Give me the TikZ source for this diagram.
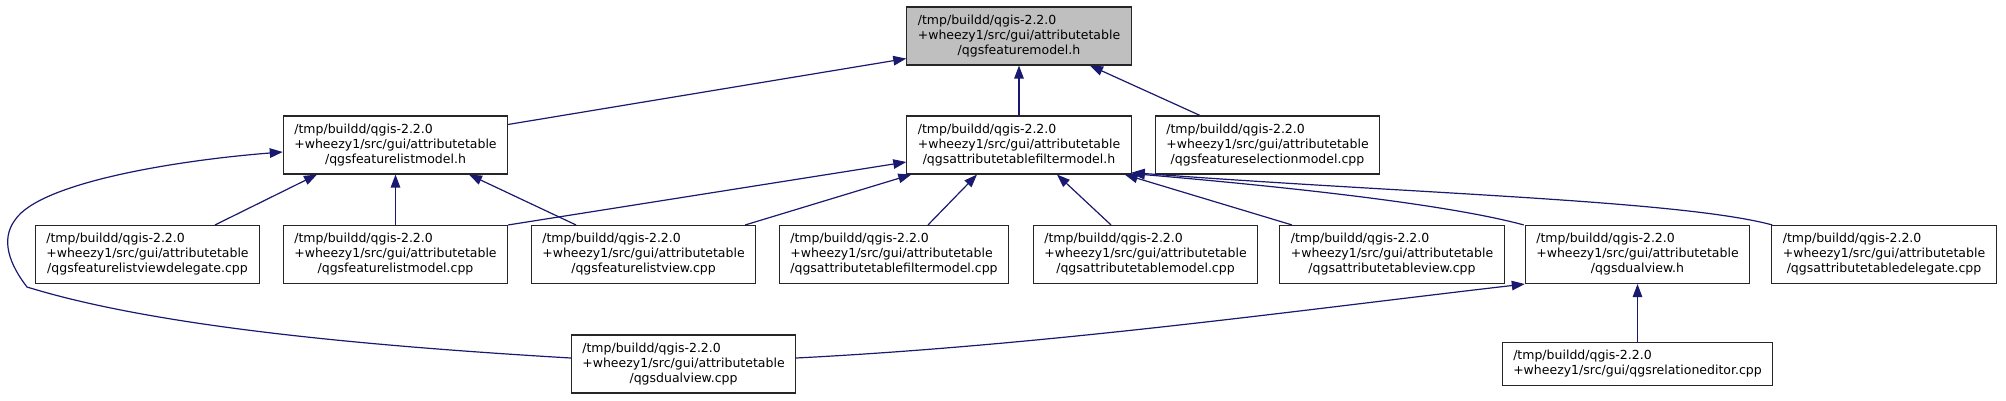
\documentclass[tikz,border=0pt]{standalone}
\usepackage{fontspec}
\setmainfont{DejaVu Sans}
\usetikzlibrary{arrows.meta}
\definecolor{edgeblue}{HTML}{191970}
\definecolor{boxgray}{HTML}{BFBFBF}
\newcommand{\lblthree}[3]{\begin{tabular}{@{}l@{}}#1\\#2\\\multicolumn{1}{@{}c@{}}{#3}\end{tabular}}
\newcommand{\lbltwo}[2]{\begin{tabular}{@{}l@{}}#1\\#2\end{tabular}}
\newcommand{\pa}{/tmp/buildd/qgis-2.2.0}
\newcommand{\pb}{+wheezy1/src/gui/attributetable}
\begin{document}
\begin{tikzpicture}[x=1pt,y=-1pt,
  box/.style={draw=black!85, line width=1.1pt, fill=white, inner xsep=11pt, inner ysep=6.5pt,
    font=\fontsize{12.5}{15}\selectfont},
  arr/.style={draw=edgeblue, line width=1.2pt, -{Triangle[length=13pt,width=9.5pt]}}]
\useasboundingbox[fill=white] (0,0) rectangle (2006,400);

\node[box, fill=boxgray] (fm) at (1019,36) {\lblthree{\pa}{\pb}{/qgsfeaturemodel.h}};
\node[box] (flmh) at (395.5,145) {\lblthree{\pa}{\pb}{/qgsfeaturelistmodel.h}};
\node[box] (tfmh) at (1019,145) {\lblthree{\pa}{\pb}{/qgsattributetablefiltermodel.h}};
\node[box] (fsel) at (1267.5,145) {\lblthree{\pa}{\pb}{/qgsfeatureselectionmodel.cpp}};
\node[box] (flvd) at (147.5,254.5) {\lblthree{\pa}{\pb}{/qgsfeaturelistviewdelegate.cpp}};
\node[box] (flmc) at (395.5,254.5) {\lblthree{\pa}{\pb}{/qgsfeaturelistmodel.cpp}};
\node[box] (flv) at (643.5,254.5) {\lblthree{\pa}{\pb}{/qgsfeaturelistview.cpp}};
\node[box] (tfmc) at (894,254.5) {\lblthree{\pa}{\pb}{/qgsattributetablefiltermodel.cpp}};
\node[box] (tmc) at (1145.5,254.5) {\lblthree{\pa}{\pb}{/qgsattributetablemodel.cpp}};
\node[box] (tvc) at (1392,254.5) {\lblthree{\pa}{\pb}{/qgsattributetableview.cpp}};
\node[box] (dvh) at (1637.5,254.5) {\lblthree{\pa}{\pb}{/qgsdualview.h}};
\node[box] (tdc) at (1884,254.5) {\lblthree{\pa}{\pb}{/qgsattributetabledelegate.cpp}};
\node[box] (dvc) at (683.5,364) {\lblthree{\pa}{\pb}{/qgsdualview.cpp}};
\node[box] (re) at (1637.5,364) {\lbltwo{\pa}{+wheezy1/src/gui/qgsrelationeditor.cpp}};

% to qgsfeaturemodel.h
\draw[arr] ([yshift=-9pt]flmh.north east) -- ([yshift=7pt]fm.south west);
\draw[arr] (tfmh.north) -- (fm.south);
\draw[arr] ([xshift=-67.5pt]fsel.north) -- ([xshift=71pt]fm.south);

% to qgsfeaturelistmodel.h
\draw[arr] ([xshift=67.5pt]flvd.north) -- ([xshift=-78.5pt]flmh.south);
\draw[arr] (flmc.north) -- (flmh.south);
\draw[arr] ([xshift=-67.5pt]flv.north) -- ([xshift=73.5pt]flmh.south);
\draw[arr] ([yshift=6pt]dvc.west) .. controls (350,345) and (150,325) .. (27,287)
  .. controls (10,265) and (0,240) .. (15,220)
  .. controls (40,182) and (180,160) .. ([yshift=-7pt]flmh.west);

% to qgsattributetablefiltermodel.h
\draw[arr] (flmc.north east) -- ([yshift=-17pt]tfmh.west);
\draw[arr] ([xshift=-11pt]flv.north east) -- ([xshift=5pt]tfmh.south west);
\draw[arr] ([xshift=34pt]tfmc.north) -- ([xshift=-42pt]tfmh.south);
\draw[arr] ([xshift=-34.5pt]tmc.north) -- ([xshift=38pt]tfmh.south);
\draw[arr] ([xshift=-100pt]tvc.north) -- ([xshift=-7pt]tfmh.south east);
\draw[arr] ([xshift=-1pt]dvh.north west) .. controls (1450,205) and (1300,188) .. ([yshift=1pt]tfmh.south east);
\draw[arr] ([xshift=1pt]tdc.north west) .. controls (1680,200) and (1400,193) .. ([yshift=2pt]tfmh.south east);

% to qgsdualview.h
\draw[arr] ([yshift=6pt]dvc.east) .. controls (1050,345) and (1300,310) .. (dvh.south west);
\draw[arr] (re.north) -- (dvh.south);
\end{tikzpicture}
\end{document}
